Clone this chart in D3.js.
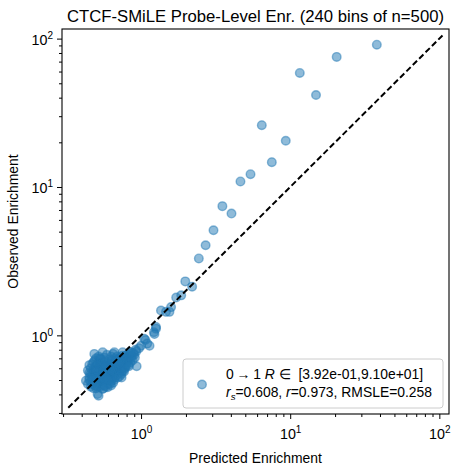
<!DOCTYPE html>
<html>
<head>
<meta charset="utf-8">
<script src="https://cdn.jsdelivr.net/npm/d3@7"></script>
<style>
  body { margin: 0; background: #fff; }
  svg { font-family: "Liberation Sans", Arial, sans-serif; }
  .pre { white-space: pre; }
</style>
</head>
<body>
<svg id="chart" width="459" height="475"></svg>
<script>
// [predicted, observed]
const tailPoints = [
  [38.1, 91.0], [20.5, 75.3], [11.6, 58.7], [14.9, 41.7], [6.45, 26.1], [9.34, 20.5],
  [7.53, 14.7], [5.42, 12.2], [4.64, 10.9], [3.51, 7.43], [4.04, 6.62], [3.06, 5.11],
  [2.71, 4.05], [2.44, 3.30],
  [1.72, 1.80], [1.86, 1.86], [1.98, 2.31], [2.20, 2.13], [1.36, 1.47], [1.47, 1.44],
  [1.59, 1.55], [1.55, 1.44], [1.26, 1.14], [1.22, 1.05], [1.05, 0.95], [1.07, 0.93],
  [1.14, 0.85], [1.00, 0.85], [0.93, 0.78], [0.84, 0.77], [1.23, 1.02], [1.26, 1.11],
  [1.10, 0.88], [0.97, 0.82], [0.90, 0.74], [0.934, 0.619]
];

const clusterPoints = [
  [0.427, 0.495], [0.44, 0.47], [0.45, 0.52], [0.45, 0.56], [0.46, 0.60], [0.46, 0.49],
  [0.47, 0.54], [0.47, 0.64], [0.48, 0.58], [0.48, 0.50], [0.486, 0.75], [0.49, 0.68],
  [0.49, 0.53], [0.49, 0.61], [0.44, 0.58], [0.45, 0.63], [0.47, 0.47], [0.48, 0.66],
  [0.46, 0.55], [0.49, 0.57],
  [0.50, 0.50], [0.50, 0.55], [0.50, 0.62], [0.50, 0.70], [0.51, 0.47], [0.51, 0.58],
  [0.51, 0.65], [0.52, 0.52], [0.52, 0.56], [0.52, 0.60], [0.52, 0.72], [0.53, 0.49],
  [0.53, 0.54], [0.53, 0.63], [0.53, 0.67], [0.54, 0.51], [0.54, 0.57], [0.54, 0.61],
  [0.54, 0.69], [0.55, 0.46], [0.55, 0.53], [0.55, 0.59], [0.55, 0.64], [0.553, 0.77],
  [0.511, 0.402], [0.519, 0.392], [0.50, 0.58], [0.51, 0.53], [0.52, 0.64], [0.53, 0.58],
  [0.54, 0.54], [0.55, 0.62], [0.50, 0.52], [0.52, 0.48], [0.53, 0.70], [0.54, 0.65],
  [0.56, 0.50], [0.56, 0.55], [0.56, 0.60], [0.56, 0.66], [0.57, 0.52], [0.57, 0.57],
  [0.57, 0.63], [0.57, 0.71], [0.58, 0.48], [0.58, 0.54], [0.58, 0.59], [0.58, 0.67],
  [0.59, 0.51], [0.59, 0.56], [0.59, 0.62], [0.59, 0.74], [0.60, 0.47], [0.60, 0.53],
  [0.60, 0.58], [0.60, 0.64], [0.61, 0.50], [0.61, 0.55], [0.61, 0.60], [0.61, 0.69],
  [0.62, 0.52], [0.62, 0.57], [0.62, 0.63], [0.597, 0.447], [0.56, 0.58], [0.57, 0.54],
  [0.58, 0.62], [0.59, 0.58], [0.60, 0.61], [0.61, 0.53], [0.62, 0.60], [0.56, 0.52],
  [0.57, 0.60], [0.58, 0.56], [0.59, 0.53], [0.60, 0.56],
  [0.63, 0.54], [0.63, 0.59], [0.63, 0.65], [0.63, 0.72], [0.64, 0.51], [0.64, 0.56],
  [0.64, 0.61], [0.64, 0.68], [0.65, 0.53], [0.65, 0.58], [0.65, 0.63], [0.65, 0.75],
  [0.66, 0.55], [0.66, 0.60], [0.66, 0.66], [0.662, 0.77], [0.67, 0.52], [0.67, 0.57],
  [0.67, 0.62], [0.67, 0.70], [0.68, 0.56], [0.68, 0.61], [0.68, 0.65], [0.69, 0.54],
  [0.69, 0.59], [0.69, 0.64], [0.69, 0.72], [0.70, 0.57], [0.70, 0.62], [0.70, 0.67],
  [0.63, 0.49], [0.64, 0.58], [0.65, 0.61], [0.66, 0.57], [0.67, 0.60], [0.68, 0.58],
  [0.69, 0.62], [0.70, 0.60], [0.66, 0.50], [0.68, 0.68],
  [0.71, 0.58], [0.71, 0.63], [0.71, 0.69], [0.72, 0.56], [0.72, 0.61], [0.72, 0.66],
  [0.73, 0.59], [0.73, 0.64], [0.73, 0.71], [0.74, 0.57], [0.74, 0.62], [0.74, 0.68],
  [0.75, 0.60], [0.75, 0.65], [0.753, 0.77], [0.76, 0.58], [0.76, 0.63], [0.76, 0.70],
  [0.77, 0.61], [0.77, 0.66], [0.78, 0.64], [0.78, 0.69], [0.79, 0.62], [0.79, 0.73],
  [0.72, 0.53], [0.74, 0.55], [0.75, 0.73], [0.77, 0.57], [0.78, 0.60], [0.79, 0.67],
  [0.71, 0.65], [0.73, 0.67],
  [0.80, 0.64], [0.80, 0.70], [0.81, 0.67], [0.81, 0.74], [0.82, 0.63], [0.82, 0.71],
  [0.83, 0.68], [0.84, 0.72], [0.85, 0.66], [0.85, 0.75], [0.86, 0.70], [0.87, 0.73],
  [0.88, 0.68], [0.89, 0.76], [0.91, 0.71], [0.92, 0.80], [0.83, 0.62], [0.86, 0.77],
  [0.46, 0.45], [0.48, 0.44], [0.50, 0.44], [0.53, 0.45], [0.553, 0.435], [0.57, 0.46],
  [0.62, 0.47], [0.65, 0.48], [0.45, 0.50], [0.47, 0.51], [0.49, 0.46], [0.51, 0.45],
  [0.56, 0.44], [0.58, 0.45], [0.60, 0.50], [0.70, 0.52], [0.74, 0.52], [0.63, 0.46]
];

const axisLimits = [0.2951, 116.1];
const identityLine = [0.325, 105];
const majorTicks = [1, 10, 100];
const titleText = 'CTCF-SMiLE Probe-Level Enr. (240 bins of n=500)';
const xLabelText = 'Predicted Enrichment';
const yLabelText = 'Observed Enrichment';

const data = tailPoints.concat(clusterPoints);
const color = '#1f77b4';

const svg = d3.select('#chart');
const margin = {top: 29, right: 10, bottom: 61, left: 62};
const width = 459 - margin.left - margin.right;
const height = 475 - margin.top - margin.bottom;

const x = d3.scaleLog().domain(axisLimits).range([0, width]);
const y = d3.scaleLog().domain(axisLimits).range([height, 0]);

const graph = svg.append('g').attr('transform', `translate(${margin.left}, ${margin.top})`);

graph.append('defs')
  .append('clipPath')
  .attr('id', 'clip')
  .append('rect')
  .attr('width', width)
  .attr('height', height);

// points
graph.append('g')
  .attr('clip-path', 'url(#clip)')
  .selectAll('circle')
  .data(data)
  .enter()
  .append('circle')
  .attr('cx', d => x(d[0]))
  .attr('cy', d => y(d[1]))
  .attr('r', 4.3)
  .attr('fill', color)
  .attr('fill-opacity', 0.5)
  .attr('stroke', color)
  .attr('stroke-opacity', 0.5)
  .attr('stroke-width', 1.4);

// y = x reference
graph.append('line')
  .attr('x1', x(identityLine[0]))
  .attr('y1', y(identityLine[0]))
  .attr('x2', x(identityLine[1]))
  .attr('y2', y(identityLine[1]))
  .attr('stroke', '#000')
  .attr('stroke-width', 2)
  .attr('stroke-dasharray', '6,3');

// axes: minor then major ticks
const minorTicks = x.ticks().filter(v => !majorTicks.includes(v));

function styleAxis(g) {
  g.select('.domain').remove();
  g.selectAll('.tick line').attr('stroke', '#000').attr('stroke-width', 1);
}

graph.append('g')
  .attr('transform', `translate(0, ${height})`)
  .call(d3.axisBottom(x).tickValues(minorTicks).tickSize(3).tickFormat(''))
  .call(styleAxis);
graph.append('g')
  .call(d3.axisLeft(y).tickValues(minorTicks).tickSize(3).tickFormat(''))
  .call(styleAxis);

const xMajor = graph.append('g')
  .attr('transform', `translate(0, ${height})`)
  .call(d3.axisBottom(x).tickValues(majorTicks).tickSize(5).tickFormat(''))
  .call(styleAxis);
const yMajor = graph.append('g')
  .call(d3.axisLeft(y).tickValues(majorTicks).tickSize(5).tickFormat(''))
  .call(styleAxis);

function powerLabel(text, v) {
  text.text(null);
  text.append('tspan').text('10');
  text.append('tspan')
    .attr('dy', '-0.6em')
    .attr('font-size', '10px')
    .text(Math.round(Math.log10(v)));
}

xMajor.selectAll('.tick').each(function(v) {
  const t = d3.select(this).append('text')
    .attr('y', 25)
    .attr('fill', '#000')
    .attr('font-size', '14.3px')
    .attr('text-anchor', 'middle');
  powerLabel(t, v);
});
yMajor.selectAll('.tick').each(function(v) {
  const t = d3.select(this).append('text')
    .attr('x', -9)
    .attr('y', 6)
    .attr('fill', '#000')
    .attr('font-size', '14.3px')
    .attr('text-anchor', 'end');
  powerLabel(t, v);
});

// frame
graph.append('rect')
  .attr('width', width)
  .attr('height', height)
  .attr('fill', 'none')
  .attr('stroke', '#000')
  .attr('stroke-width', 1.1);

// legend
const legend = graph.append('g').attr('transform', `translate(${width - 266}, ${height - 55})`);
legend.append('rect')
  .attr('width', 260)
  .attr('height', 49)
  .attr('rx', 3)
  .attr('fill', '#fff')
  .attr('fill-opacity', 0.8)
  .attr('stroke', '#cccccc')
  .attr('stroke-width', 1);
legend.append('circle')
  .attr('cx', 19)
  .attr('cy', 25.5)
  .attr('r', 4.3)
  .attr('fill', color)
  .attr('fill-opacity', 0.5)
  .attr('stroke', color)
  .attr('stroke-opacity', 0.5)
  .attr('stroke-width', 1.4);

const line1 = legend.append('text')
  .attr('class', 'pre')
  .attr('x', 43)
  .attr('y', 20)
  .attr('font-size', '13.9px')
  .attr('fill', '#000');
line1.append('tspan').text('0\u2009\u2192\u20091 ');
line1.append('tspan').attr('font-style', 'italic').text('R');
line1.append('tspan').text(' \u2208  [3.92e-01,9.10e+01]');

const line2 = legend.append('text')
  .attr('x', 43)
  .attr('y', 38)
  .attr('font-size', '13.9px')
  .attr('fill', '#000');
line2.append('tspan').attr('font-style', 'italic').text('r');
line2.append('tspan').attr('font-style', 'italic').attr('font-size', '9.7px').attr('dy', 3).text('s');
line2.append('tspan').attr('dy', -3).text('=0.608, ');
line2.append('tspan').attr('font-style', 'italic').text('r');
line2.append('tspan').text('=0.973, RMSLE=0.258');

// title and axis labels
svg.append('text')
  .attr('x', margin.left + width / 2)
  .attr('y', 22)
  .attr('text-anchor', 'middle')
  .attr('font-size', '16.7px')
  .attr('fill', '#000')
  .text(titleText);

svg.append('text')
  .attr('x', margin.left + width / 2)
  .attr('y', 463)
  .attr('text-anchor', 'middle')
  .attr('font-size', '13.9px')
  .attr('fill', '#000')
  .text(xLabelText);

svg.append('text')
  .attr('transform', `translate(18, ${margin.top + height / 2}) rotate(-90)`)
  .attr('text-anchor', 'middle')
  .attr('font-size', '13.9px')
  .attr('fill', '#000')
  .text(yLabelText);
</script>
</body>
</html>
